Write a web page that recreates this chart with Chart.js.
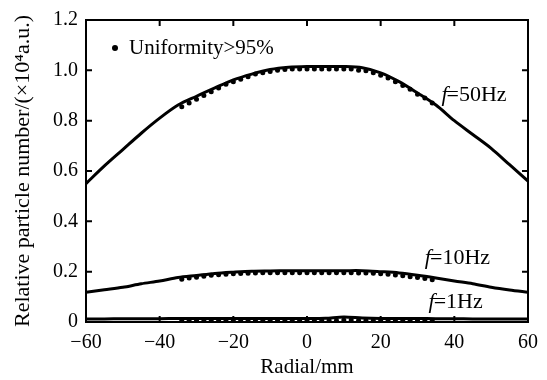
<!DOCTYPE html>
<html>
<head>
<meta charset="utf-8">
<script src="https://cdn.jsdelivr.net/npm/chart.js@4"></script>
<style>
  html, body { margin: 0; padding: 0; background: #fff; }
  #wrap { width: 547px; height: 380px; }
</style>
</head>
<body>
<div id="wrap"><canvas id="chart"></canvas></div>
<script>
// radial positions (mm) for the continuous curves
const radial = [-60, -55, -50, -45, -40, -35, -30, -25, -20, -15, -10, -5, 0, 5, 10, 15, 20, 25, 30, 35, 40, 45, 50, 55, 60];
const f50 = [0.55, 0.62, 0.685, 0.75, 0.81, 0.862, 0.897, 0.93, 0.962, 0.985, 1.003, 1.012, 1.015, 1.015, 1.015, 1.01, 0.99, 0.955, 0.91, 0.862, 0.80, 0.745, 0.69, 0.625, 0.56];
const f10 = [0.118, 0.128, 0.138, 0.152, 0.163, 0.177, 0.185, 0.193, 0.198, 0.202, 0.203, 0.204, 0.204, 0.204, 0.204, 0.204, 0.2, 0.195, 0.186, 0.175, 0.163, 0.152, 0.138, 0.127, 0.118];
const f1 = [0.012, 0.012, 0.013, 0.013, 0.013, 0.014, 0.014, 0.014, 0.014, 0.014, 0.014, 0.014, 0.014, 0.015, 0.02, 0.016, 0.014, 0.014, 0.014, 0.013, 0.013, 0.012, 0.012, 0.012, 0.012];

// uniformity>95% marker positions
const dotRadial = [-34, -32, -30, -28, -26, -24, -22, -20, -18, -16, -14, -12, -10, -8, -6, -4, -2, 0, 2, 4, 6, 8, 10, 12, 14, 16, 18, 20, 22, 24, 26, 28, 30, 32, 34];
const dots50 = [0.855, 0.87, 0.885, 0.90, 0.915, 0.93, 0.945, 0.955, 0.965, 0.975, 0.985, 0.99, 0.995, 1.0, 1.003, 1.005, 1.005, 1.005, 1.005, 1.005, 1.005, 1.005, 1.005, 1.005, 1.0, 0.998, 0.99, 0.98, 0.97, 0.955, 0.94, 0.925, 0.905, 0.89, 0.87];
const dots10 = [0.17, 0.175, 0.178, 0.182, 0.186, 0.188, 0.19, 0.192, 0.193, 0.194, 0.195, 0.196, 0.196, 0.196, 0.196, 0.196, 0.196, 0.196, 0.196, 0.196, 0.196, 0.196, 0.196, 0.196, 0.195, 0.195, 0.194, 0.192, 0.19, 0.187, 0.184, 0.18, 0.177, 0.173, 0.168];
const dots1 = [0.006, 0.006, 0.006, 0.006, 0.006, 0.006, 0.006, 0.006, 0.006, 0.006, 0.006, 0.006, 0.006, 0.006, 0.006, 0.006, 0.006, 0.006, 0.006, 0.006, 0.006, 0.006, 0.008, 0.008, 0.006, 0.006, 0.006, 0.006, 0.006, 0.006, 0.006, 0.006, 0.006, 0.006, 0.006];

const xTicks = [-60, -40, -20, 0, 20, 40, 60];
const yTicks = [0, 0.2, 0.4, 0.6, 0.8, 1.0, 1.2];
const curveLabels = [
  { text: "=50Hz", x: 36.5, y: 0.9 },
  { text: "=10Hz", x: 32, y: 0.253 },
  { text: "=1Hz", x: 33, y: 0.078 }
];
const legendText = "Uniformity>95%";

const serif = "'Liberation Serif', 'Times New Roman', serif";

function pts(xs, ys) {
  return xs.map((x, i) => ({ x: x, y: ys[i] }));
}

function lineSet(data) {
  return {
    type: "line",
    data: data,
    borderColor: "#000",
    borderWidth: 3,
    pointRadius: 0,
    tension: 0.3,
    fill: false
  };
}

function dotSet(data) {
  return {
    type: "scatter",
    data: data,
    backgroundColor: "#000",
    borderColor: "#000",
    pointRadius: 2.5,
    borderWidth: 0
  };
}

const framePlugin = {
  id: "frame",
  afterDraw(chart) {
    const ctx = chart.ctx;
    const a = chart.chartArea;
    const xs = chart.scales.x;
    const ys = chart.scales.y;
    ctx.save();
    ctx.strokeStyle = "#000";
    ctx.lineWidth = 2;
    ctx.strokeRect(a.left, a.top, a.right - a.left, a.bottom - a.top);
    ctx.beginPath();
    xTicks.forEach(v => {
      const px = xs.getPixelForValue(v);
      ctx.moveTo(px, a.top); ctx.lineTo(px, a.top + 6);
      ctx.moveTo(px, a.bottom); ctx.lineTo(px, a.bottom - 6);
    });
    yTicks.forEach(v => {
      const py = ys.getPixelForValue(v);
      ctx.moveTo(a.left, py); ctx.lineTo(a.left + 6, py);
      ctx.moveTo(a.right, py); ctx.lineTo(a.right - 6, py);
    });
    ctx.stroke();

    // curve labels: italic f then the rest
    ctx.fillStyle = "#000";
    ctx.textBaseline = "middle";
    curveLabels.forEach(l => {
      const px = xs.getPixelForValue(l.x);
      const py = ys.getPixelForValue(l.y);
      ctx.font = "italic 22px " + serif;
      ctx.fillText("f", px, py);
      const w = ctx.measureText("f").width;
      ctx.font = "22px " + serif;
      ctx.fillText(l.text, px + w - 1, py);
    });

    // legend
    ctx.beginPath();
    ctx.arc(a.left + 29, a.top + 28, 3, 0, Math.PI * 2);
    ctx.fill();
    ctx.font = "21px " + serif;
    ctx.fillText(legendText, a.left + 43, a.top + 28);
    ctx.restore();
  }
};

new Chart(document.getElementById("chart"), {
  data: {
    datasets: [
      lineSet(pts(radial, f50)),
      lineSet(pts(radial, f10)),
      lineSet(pts(radial, f1)),
      dotSet(pts(dotRadial, dots50)),
      dotSet(pts(dotRadial, dots10)),
      dotSet(pts(dotRadial, dots1))
    ]
  },
  options: {
    responsive: true,
    maintainAspectRatio: false,
    animation: false,
    layout: { padding: { top: 17, right: 14, left: 0, bottom: 0 } },
    plugins: { legend: { display: false }, tooltip: { enabled: false } },
    scales: {
      x: {
        type: "linear",
        min: -60,
        max: 60,
        afterFit: s => { s.height = 58; },
        afterBuildTicks: s => { s.ticks = xTicks.map(v => ({ value: v })); },
        grid: { display: false, drawTicks: false },
        border: { display: false },
        ticks: {
          color: "#000",
          padding: 9,
          font: { family: serif, size: 20 },
          callback: v => String(v).replace("-", "\u2212")
        },
        title: {
          display: true,
          text: "Radial/mm",
          color: "#000",
          font: { family: serif, size: 21 },
          padding: { top: 0, bottom: 0 }
        }
      },
      y: {
        type: "linear",
        min: 0,
        max: 1.2,
        afterFit: s => { s.width = 86; },
        afterBuildTicks: s => { s.ticks = yTicks.map(v => ({ value: v })); },
        grid: { display: false, drawTicks: false },
        border: { display: false },
        ticks: {
          color: "#000",
          padding: 8,
          font: { family: serif, size: 20 },
          callback: v => (v === 0 ? "0" : v.toFixed(1))
        },
        title: {
          display: true,
          text: "Relative particle number/(\u00d710\u2074a.u.)",
          color: "#000",
          font: { family: serif, size: 22 },
          padding: { top: 10, bottom: 0 }
        }
      }
    }
  },
  plugins: [framePlugin]
});
</script>
</body>
</html>
